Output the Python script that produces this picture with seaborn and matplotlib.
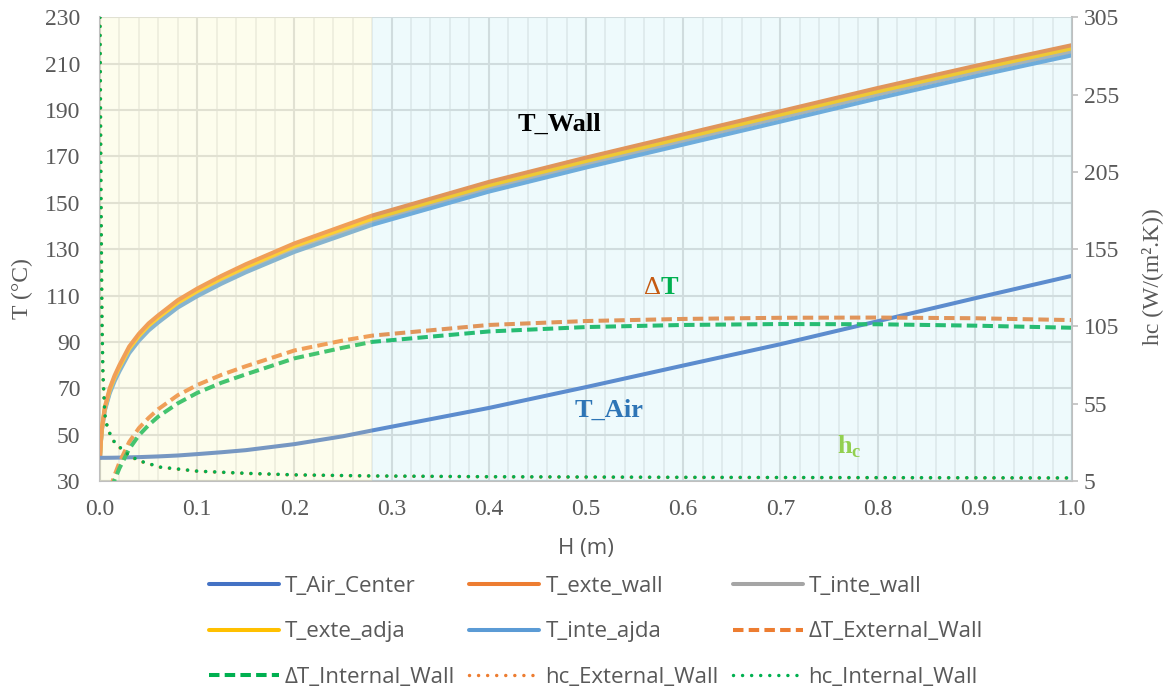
import matplotlib
matplotlib.use('Agg')
import matplotlib.pyplot as plt
import seaborn as sns
import numpy as np

# ---------------- data ----------------
H = [0, 0.001, 0.002, 0.005, 0.01, 0.015, 0.02, 0.03, 0.04, 0.05, 0.06, 0.08, 0.1,
     0.125, 0.15, 0.2, 0.25, 0.28, 0.4, 0.5, 0.6, 0.7, 0.8, 0.9, 1.0]
T_Air_Center = [40, 40, 40, 40, 40.02, 40.05, 40.1, 40.2, 40.3, 40.45, 40.6, 41, 41.6,
                42.4, 43.3, 45.9, 49.3, 51.8, 61.5, 70.5, 79.8, 89, 98.9, 108.8, 118.5]
T_exte_wall = [40, 47.5, 53, 62, 70, 75.5, 80, 88, 93.5, 98, 101.5, 108, 113,
               118.5, 123.5, 132.5, 140, 144.5, 159, 169.5, 179.5, 189.5, 199.5, 209, 218]
T_exte_adja = [40, 47.3, 52.7, 61.5, 69.3, 74.7, 79.1, 87, 92.5, 97, 100.5, 106.9, 111.9,
               117.4, 122.3, 131.3, 138.7, 143.1, 157.5, 168, 178, 188, 198, 207.5, 216.6]
T_inte_wall = [40, 47.2, 52.3, 60.9, 68.5, 73.8, 78.2, 86.1, 91.5, 95.9, 99.4, 105.9, 110.8,
               116.2, 121.2, 130, 137.4, 141.8, 156.2, 166.6, 176.6, 186.6, 196.6, 206.1, 215.1]
T_inte_ajda = [40, 47, 52, 60.4, 67.8, 73, 77.3, 85.1, 90.5, 94.9, 98.4, 104.8, 109.7,
               115.1, 120, 128.8, 136.1, 140.5, 154.8, 165.2, 175.1, 185, 195, 204.5, 213.6]
dT_External_Wall = [0, 4, 8, 17, 26, 32.5, 38, 46.8, 52.8, 57.2, 61, 67, 71.4,
                    75.8, 79.5, 86.3, 90.6, 92.7, 97.3, 99, 99.9, 100.4, 100.5, 100.2, 99.4]
dT_Internal_Wall = [0, 3.5, 7.5, 16, 24.5, 30.5, 35.5, 43.8, 49.7, 54.1, 57.8, 63.5, 68,
                    72.4, 76, 82.9, 87.5, 90, 94.5, 96.4, 97.3, 97.7, 97.6, 97, 96.1]

H_hc = [0, 0.001, 0.002, 0.003, 0.005, 0.0075, 0.01, 0.015, 0.021, 0.03, 0.041, 0.062,
        0.1, 0.15, 0.2, 0.28, 0.4, 0.6, 0.8, 1.0]
hc_Internal_Wall = [305, 190, 110, 75, 48, 40, 36, 30, 26.5, 21.5, 18, 14,
                    11.4, 10, 9, 8.3, 7.8, 7.4, 7.2, 7.0]
hc_External_Wall = [305, 188, 108, 74, 47.5, 39.5, 35.6, 29.7, 26.2, 21.3, 17.8, 13.9,
                    11.3, 9.9, 8.9, 8.2, 7.7, 7.3, 7.1, 6.9]

x_ticks = [0.0, 0.1, 0.2, 0.3, 0.4, 0.5, 0.6, 0.7, 0.8, 0.9, 1.0]
y_ticks = [30, 50, 70, 90, 110, 130, 150, 170, 190, 210, 230]
y2_ticks = [5, 55, 105, 155, 205, 255, 305]
zone_split = 0.28

# ---------------- style ----------------
sns.set_theme(style='white')
plt.rcParams['font.family'] = ['Liberation Serif', 'DejaVu Serif']
plt.rcParams['mathtext.fontset'] = 'custom'
plt.rcParams['mathtext.bf'] = 'Liberation Serif:bold'
plt.rcParams['mathtext.rm'] = 'Liberation Serif'

GRAY_TXT = '#595959'
AX_GRAY = '#BFBFBF'
SANS = ['Open Sans', 'DejaVu Sans']

fig = plt.figure(figsize=(11.7, 6.93), dpi=100)
ax = fig.add_axes([100 / 1170, 1 - 481 / 693, 972 / 1170, (481 - 17.3) / 693])
ax2 = ax.twinx()

C_AIR = '#4472C4'
C_EXT = '#ED7D31'
C_INW = '#A5A5A5'
C_ADJ = '#FFC000'
C_INA = '#5B9BD5'
C_GRN = '#00B050'

LW = 2.9
dash = (0, (2.6, 1.3))
dot = (0, (0.01, 2.6))

series = [
    (T_inte_wall, C_INW, '-', 'T_inte_wall'),
    (T_inte_ajda, C_INA, '-', 'T_inte_ajda'),
    (T_exte_adja, C_ADJ, '-', 'T_exte_adja'),
    (T_exte_wall, C_EXT, '-', 'T_exte_wall'),
    (T_Air_Center, C_AIR, '-', 'T_Air_Center'),
    (dT_External_Wall, C_EXT, dash, 'ΔT_External_Wall'),
    (dT_Internal_Wall, C_GRN, dash, 'ΔT_Internal_Wall'),
]
handles = {}
for vals, col, ls, name in series:
    sns.lineplot(x=H, y=vals, ax=ax, color=col, linewidth=LW, linestyle=ls,
                 legend=False, estimator=None, sort=False, zorder=3)
    handles[name] = ax.lines[-1]

for vals, col, name in [(hc_External_Wall, C_EXT, 'hc_External_Wall'),
                        (hc_Internal_Wall, C_GRN, 'hc_Internal_Wall')]:
    sns.lineplot(x=H_hc, y=vals, ax=ax2, color=col, linewidth=2.5, linestyle=dot,
                 dash_capstyle='round', legend=False, estimator=None, sort=False, zorder=3)
    handles[name] = ax2.lines[-1]

# shaded zones (semi-transparent, over the curves like the original)
ax2.axvspan(0, zone_split, color='#F8F8C0', alpha=0.28, lw=0, zorder=2.6)
ax2.axvspan(zone_split, 1.0, color='#B3EBF3', alpha=0.22, lw=0, zorder=2.6)

# axes
ax.set_xlim(0, 1.0)
ax.set_ylim(30, 230)
ax2.set_ylim(5, 305)
ax.set_xticks(x_ticks)
ax.set_xticks(np.arange(0, 1.0001, 0.02), minor=True)
ax.set_xticklabels([f'{v:.1f}' for v in x_ticks])
ax.set_yticks(y_ticks)
ax2.set_yticks(y2_ticks)

ax.grid(which='major', axis='both', color='#D9D9D9', lw=1.5)
ax.grid(which='minor', axis='x', color='#E9E9E9', lw=1.2)
ax.set_axisbelow(True)

for s in ['top', 'right']:
    ax.spines[s].set_visible(False)
for s in ['left', 'bottom']:
    ax.spines[s].set_color(AX_GRAY)
    ax.spines[s].set_linewidth(1.5)
for s in ['top', 'left', 'bottom']:
    ax2.spines[s].set_visible(False)
ax2.spines['right'].set_color(AX_GRAY)
ax2.spines['right'].set_linewidth(1.5)

ax.tick_params(axis='both', which='both', length=0, labelsize=17, labelcolor=GRAY_TXT)
ax.tick_params(axis='y', pad=14)
ax.tick_params(axis='x', pad=13)
ax2.tick_params(axis='y', length=4.5, width=1.2, color=AX_GRAY, direction='out',
                labelsize=17, labelcolor=GRAY_TXT, pad=4)

ax.set_ylabel('T (°C)', fontsize=17, color=GRAY_TXT)
ax.yaxis.label.set_va('center')
ax.yaxis.set_label_coords(-0.080, 0.416)
ax2.set_ylabel('hc (W/(m².K))', fontsize=17, color=GRAY_TXT, rotation=90)
ax2.yaxis.label.set_va('center')
ax2.yaxis.set_label_coords(1.082, 0.44)

ax.set_xlabel('H (m)', fontsize=16, color=GRAY_TXT, family=SANS)
ax.xaxis.label.set_va('center')
ax.xaxis.set_label_coords(0.5, -0.1466)

# annotations (drawn above the shaded zones)
tr = ax.transData
ax2.text(0.473, 184, 'T_Wall', fontsize=19, fontweight='bold', color='black',
         ha='center', va='center', zorder=6, transform=tr)
ax2.text(0.577, 113.4, 'Δ', fontsize=19, color='#C55A11', ha='right', va='center',
         zorder=6, transform=tr)
ax2.text(0.577, 113.4, 'T', fontsize=19, fontweight='bold', color=C_GRN, ha='left',
         va='center', zorder=6, transform=tr)
ax2.text(0.524, 60.3, 'T_Air', fontsize=19, fontweight='bold', color='#2E75B6',
         ha='center', va='center', zorder=6, transform=tr)
ax2.text(0.771, 41.7, r'$\mathbf{h}_{\mathbf{c}}$', fontsize=19, color='#92D050',
         ha='center', va='baseline', zorder=6, transform=tr)

# legend (row-wise order as in the original, matplotlib fills column-wise)
order = ['T_Air_Center', 'T_exte_adja', 'ΔT_Internal_Wall',
         'T_exte_wall', 'T_inte_ajda', 'hc_External_Wall',
         'T_inte_wall', 'ΔT_External_Wall', 'hc_Internal_Wall']
leg = fig.legend([handles[k] for k in order], order, ncol=3, loc='upper left',
                 bbox_to_anchor=(209 / 1170, 1 - 576 / 693), frameon=False,
                 prop={'family': SANS, 'size': 16},
                 handlelength=3.15, handletextpad=0.27, columnspacing=0.63,
                 labelspacing=1.1, borderpad=0, borderaxespad=0)
for t in leg.get_texts():
    t.set_color(GRAY_TXT)

fig.savefig('out.png', dpi=100, facecolor='white')
